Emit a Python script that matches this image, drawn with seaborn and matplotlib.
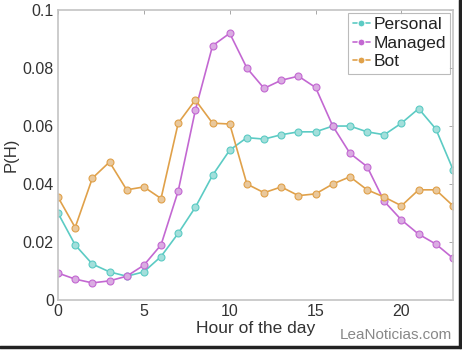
import numpy as np
import pandas as pd
import matplotlib
matplotlib.use("Agg")
import matplotlib.pyplot as plt
import seaborn as sns
from matplotlib.ticker import FuncFormatter

hours = list(range(24))
personal = [0.030, 0.019, 0.0124, 0.0097, 0.0082, 0.0097, 0.015, 0.023, 0.032, 0.043,
            0.0517, 0.056, 0.0555, 0.057, 0.058, 0.058, 0.060, 0.060, 0.058, 0.057,
            0.061, 0.066, 0.059, 0.045]
managed = [0.0093, 0.0072, 0.0059, 0.0066, 0.0082, 0.012, 0.019, 0.0376, 0.0655, 0.0877,
           0.092, 0.080, 0.073, 0.0758, 0.0772, 0.0733, 0.060, 0.0506, 0.046, 0.034,
           0.0276, 0.0227, 0.0193, 0.0144]
bot = [0.0355, 0.025, 0.042, 0.0476, 0.038, 0.039, 0.035, 0.061, 0.069, 0.061,
       0.0607, 0.040, 0.037, 0.039, 0.036, 0.0366, 0.040, 0.0425, 0.038, 0.0355,
       0.0325, 0.038, 0.038, 0.0325]
series = ["Personal", "Managed", "Bot"]
colors = ["#5ccbc4", "#c368d2", "#e0a14a"]

df = pd.DataFrame({"hour": hours * 3,
                   "p": personal + managed + bot,
                   "type": sum([[s] * 24 for s in series], [])})

sns.set_style("white")
plt.rcParams['font.family'] = ['Liberation Sans', 'DejaVu Sans']

fig = plt.figure(figsize=(4.62, 3.51), dpi=100)
ax = fig.add_axes([0.1255, 0.1453, 0.855, 0.826])
sns.lineplot(data=df, x="hour", y="p", hue="type", palette=colors, marker="o",
             markersize=5, markeredgewidth=0.8, linewidth=1.2, ax=ax)
for ln, c in zip(ax.lines, colors):
    ln.set_markerfacecolor(sns.light_palette(c, 3)[1])
    ln.set_markeredgecolor(c)

ax.set_xlim(0, 23)
ax.set_ylim(0, 0.1)
ax.set_xticks([0, 5, 10, 15, 20])
ax.set_yticks([0, 0.02, 0.04, 0.06, 0.08, 0.1])
ax.yaxis.set_major_formatter(FuncFormatter(lambda v, p: "%g" % round(v, 3)))
ax.tick_params(direction="in", length=3, width=0.6, color="#999999",
               top=True, right=True, labelsize=11.5, labelcolor="#333333", pad=3)
for s in ax.spines.values():
    s.set_color("#c4c4c4")
    s.set_linewidth(1.2)
ax.set_xlabel("Hour of the day", fontsize=12.5, color="#333333", labelpad=1)
ax.set_ylabel("P(H)", fontsize=12, color="#333333", labelpad=3)

leg = ax.legend(loc="upper right", fontsize=12.5, frameon=True, fancybox=False,
                borderaxespad=0.15, handlelength=1.0, handletextpad=0.2,
                borderpad=0.25, labelspacing=0.2)
leg.get_frame().set_edgecolor("#aaaaaa")
leg.get_frame().set_linewidth(0.8)
for t in leg.get_texts():
    t.set_color("#222222")

fig.text(0.978, 0.025, "LeaNoticias.com", ha="right", va="bottom",
         fontsize=11, color="#888888")
fig.add_artist(plt.Line2D([0, 1], [0.012, 0.012], transform=fig.transFigure,
                          color="#222222", linewidth=2.5))
fig.add_artist(plt.Line2D([0.995, 0.995], [0.012, 1], transform=fig.transFigure,
                          color="#222222", linewidth=2.5))

fig.savefig("out.png", dpi=100)
